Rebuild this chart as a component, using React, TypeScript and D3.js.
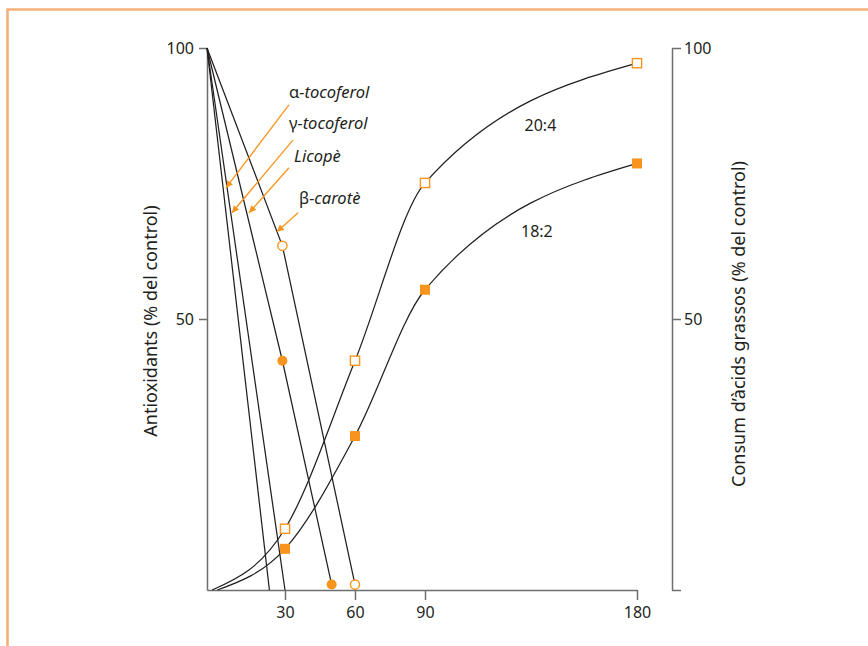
import React, { useRef, useEffect } from 'react';
import * as d3 from 'd3';

// temps (x) i percentatges (y)
const timeTicks = [30, 60, 90, 180];
const leftTicks = [50, 100];
const rightTicks = [0, 50, 100];

const alphaToco = [[0, 100], [24, 0]];
const gammaToco = [[0, 100], [30, 0]];
const licopene = [[0, 100], [29, 42.3], [50, 1]];
const betaCarotene = [[0, 100], [29, 63.5], [60, 1]];
const licopeneDots = [[29, 42.3], [50, 1]];
const betaDots = [[29, 63.5], [60, 1]];

const fa204 = [[2, 0], [30, 11.3], [60, 42.3], [90, 75.1], [180, 97.2]];
const fa182 = [[4, 0], [30, 7.6], [60, 28.4], [90, 55.4], [180, 78.7]];

// etiquetes amb fletxa: [lletra grega, resta, x text, y text, x inici, y inici, x punta, y punta]
const arrowLabels = [
  ['α', '-tocoferol', 31.7, 90.8, 31.7, 89.5, 7.3, 74.2],
  ['γ', '-tocoferol', 31.7, 85.1, 33.4, 83.0, 9.6, 69.6],
  ['', 'Licopè', 33.9, 79.0, 31.7, 77.9, 16.2, 69.6],
  ['β', '-carotè', 36.0, 71.2, 35.6, 69.6, 26.9, 66.1],
];

const seriesLabels = [['20:4', 139, 85.8], ['18:2', 137.5, 66.1]];

const ORANGE = '#f7941d';
const INK = '#231f20';
const AXIS = '#6d6e71';
const FONT = "'Noto Sans', 'Open Sans', sans-serif";

const App = () => {
  const ref = useRef(null);

  useEffect(() => {
    const svg = d3.select(ref.current);
    svg.selectAll('*').remove();

    const x = d3.scaleLinear().domain([0, 30, 60, 90, 180]).range([207, 285, 355, 425, 637]);
    const y = d3.scaleLinear().domain([0, 100]).range([590, 48]);

    // marc taronja
    svg.append('path')
      .attr('d', 'M7.5,646 V9.5 H868')
      .attr('fill', 'none')
      .attr('stroke', '#f3b07a')
      .attr('stroke-width', 2.6);

    svg.append('defs').append('marker')
      .attr('id', 'arrow')
      .attr('viewBox', '0 0 10 10')
      .attr('refX', 10)
      .attr('refY', 5)
      .attr('markerWidth', 10)
      .attr('markerHeight', 7)
      .attr('markerUnits', 'userSpaceOnUse')
      .attr('orient', 'auto')
      .append('path')
      .attr('d', 'M0,0 L10,5 L0,10 Z')
      .attr('fill', ORANGE);

    // eixos
    const styleAxis = (g) => {
      g.attr('font-size', 16).attr('font-family', FONT);
      g.selectAll('path, line').attr('stroke', AXIS).attr('stroke-width', 1.5);
      g.selectAll('text').attr('fill', INK);
    };

    svg.append('g')
      .attr('transform', 'translate(0,590)')
      .call(d3.axisBottom(x).tickValues(timeTicks).tickSize(10).tickSizeOuter(0).tickPadding(7))
      .call(styleAxis);

    svg.append('g')
      .attr('transform', 'translate(207,0)')
      .call(d3.axisLeft(y).tickValues(leftTicks).tickSize(8).tickSizeOuter(0).tickPadding(5))
      .call(styleAxis);

    svg.append('g')
      .attr('transform', 'translate(672,0)')
      .call(d3.axisRight(y).tickValues(rightTicks).tickSize(9).tickSizeOuter(0).tickPadding(3)
        .tickFormat((d) => (d === 0 ? '' : String(d))))
      .call(styleAxis);

    svg.append('text')
      .attr('transform', 'translate(157,321) rotate(-90)')
      .attr('text-anchor', 'middle')
      .attr('font-family', FONT)
      .attr('font-size', 18)
      .attr('fill', INK)
      .text('Antioxidants (% del control)');

    svg.append('text')
      .attr('transform', 'translate(745,324) rotate(-90)')
      .attr('text-anchor', 'middle')
      .attr('font-family', FONT)
      .attr('font-size', 18)
      .attr('fill', INK)
      .text('Consum d’àcids grassos (% del control)');

    // antioxidants
    const straight = d3.line().x((d) => x(d[0])).y((d) => y(d[1]));
    [alphaToco, gammaToco, licopene, betaCarotene].forEach((s) => {
      svg.append('path')
        .attr('d', straight(s))
        .attr('fill', 'none')
        .attr('stroke', INK)
        .attr('stroke-width', 1.25);
    });

    // àcids grassos
    const smooth = d3.line().x((d) => x(d[0])).y((d) => y(d[1])).curve(d3.curveMonotoneX);
    [fa204, fa182].forEach((s) => {
      svg.append('path')
        .attr('d', smooth(s))
        .attr('fill', 'none')
        .attr('stroke', INK)
        .attr('stroke-width', 1.25);
    });

    svg.selectAll('.lico').data(licopeneDots).join('circle')
      .attr('cx', (d) => x(d[0])).attr('cy', (d) => y(d[1])).attr('r', 5)
      .attr('fill', ORANGE);

    svg.selectAll('.beta').data(betaDots).join('circle')
      .attr('cx', (d) => x(d[0])).attr('cy', (d) => y(d[1])).attr('r', 4.6)
      .attr('fill', '#fff').attr('stroke', ORANGE).attr('stroke-width', 1.4);

    svg.selectAll('.sq204').data(fa204.slice(1)).join('rect')
      .attr('x', (d) => x(d[0]) - 4.6).attr('y', (d) => y(d[1]) - 4.6)
      .attr('width', 9.2).attr('height', 9.2)
      .attr('fill', '#fff').attr('stroke', ORANGE).attr('stroke-width', 1.4);

    svg.selectAll('.sq182').data(fa182.slice(1)).join('rect')
      .attr('x', (d) => x(d[0]) - 5).attr('y', (d) => y(d[1]) - 5)
      .attr('width', 10).attr('height', 10)
      .attr('fill', ORANGE);

    seriesLabels.forEach(([t, lx, ly]) => {
      svg.append('text')
        .attr('x', x(lx)).attr('y', y(ly))
        .attr('text-anchor', 'middle')
        .attr('dy', '0.35em')
        .attr('font-family', FONT)
        .attr('font-size', 16)
        .attr('fill', INK)
        .text(t);
    });

    arrowLabels.forEach(([greek, rest, tx, ty, x0, y0, x1, y1]) => {
      svg.append('line')
        .attr('x1', x(x0)).attr('y1', y(y0))
        .attr('x2', x(x1)).attr('y2', y(y1))
        .attr('stroke', ORANGE)
        .attr('stroke-width', 1.3)
        .attr('marker-end', 'url(#arrow)');

      const t = svg.append('text')
        .attr('x', x(tx)).attr('y', y(ty))
        .attr('font-family', FONT)
        .attr('font-size', 16.5)
        .attr('fill', INK);
      if (greek) t.append('tspan').text(greek);
      t.append('tspan').attr('font-style', 'italic').text(rest);
    });

    return () => {
      d3.select(ref.current).selectAll('*').remove();
    };
  }, []);

  return (
    <svg ref={ref} width={868} height={646}
      style={{ position: 'absolute', left: 0, top: 0, background: '#fff' }}></svg>
  );
};

export default App;
